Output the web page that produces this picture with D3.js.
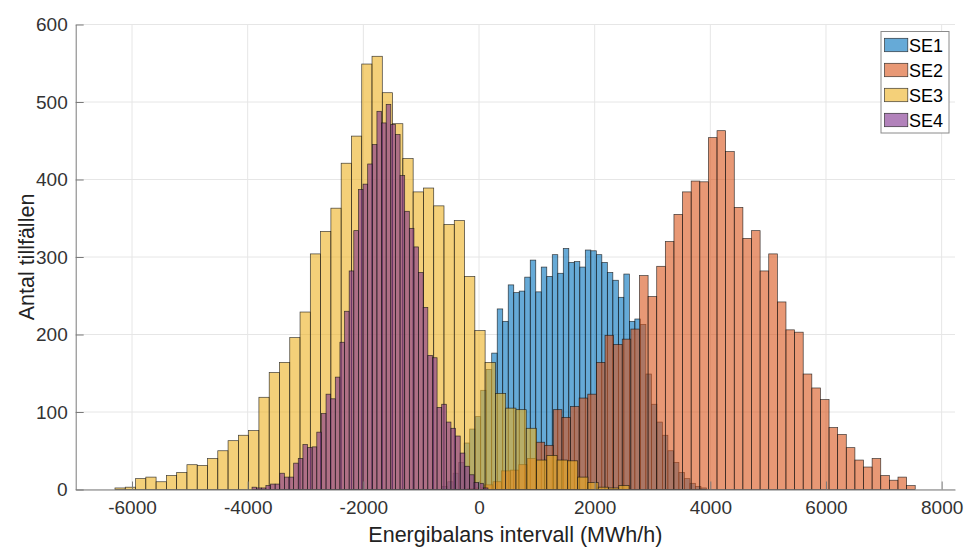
<!DOCTYPE html>
<html><head><meta charset="utf-8">
<script src="https://cdn.jsdelivr.net/npm/d3@7"></script>
<style>
body{margin:0;background:#fff}
svg{display:block}
text{font-family:"Liberation Sans",Arial,Helvetica,sans-serif}
</style>
</head><body><svg id="c" width="965" height="548"></svg>
<script>
// ---- data ----
const seriesNames = ["SE1", "SE2", "SE3", "SE4"];
const seriesColors = ["#0072BD", "#D95319", "#EDB120", "#7E2F8E"];

// SE1: first bin edge, bin width (MWh/h), counts
const se1Start = -637, se1Width = 95.2;
const se1Counts = [4, 10, 21, 35, 60, 78, 94, 128, 155, 176, 233, 217, 264, 254, 256, 274, 296, 255, 287, 275, 303, 279, 311, 293, 294, 287, 309, 308, 303, 293, 280, 270, 248, 278, 217, 220, 213, 149, 110, 87, 70, 50, 35, 22, 14, 8, 4, 2];

const se2Start = -205, se2Width = 149;
const se2Counts = [1, 2, 6, 10, 24, 25, 32, 40, 61, 57, 103, 93, 107, 118, 123, 164, 199, 187, 194, 207, 276, 249, 288, 320, 355, 384, 398, 397, 454, 463, 436, 364, 324, 334, 282, 304, 242, 206, 203, 149, 131, 116, 80, 71, 54, 38, 29, 40, 18, 12, 16, 5];

const se3Start = -6295, se3Width = 177.8;
const se3Counts = [2, 3, 14, 16, 10, 18, 22, 32, 31, 40, 50, 63, 70, 76, 119, 151, 164, 196, 229, 304, 333, 363, 421, 456, 549, 559, 512, 472, 427, 384, 389, 366, 342, 347, 275, 205, 164, 124, 105, 103, 79, 38, 44, 38, 37, 16, 9, 3, 2, 5];

const se4Start = -3925, se4Width = 80;
const se4Counts = [3, 2, 2, 5, 7, 7, 21, 16, 16, 34, 40, 58, 54, 55, 74, 98, 123, 117, 145, 190, 230, 282, 334, 387, 394, 420, 445, 488, 473, 497, 471, 458, 405, 359, 337, 313, 280, 235, 173, 170, 106, 110, 87, 79, 69, 47, 30, 19, 9, 8, 2];

const xTicks = [-6000, -4000, -2000, 0, 2000, 4000, 6000, 8000];
const yTicks = [0, 100, 200, 300, 400, 500, 600];
const xLabel = "Energibalans intervall (MWh/h)";
const yLabel = "Antal tillfällen";

// ---- drawing ----
const svg = d3.select("#c");
const L = 75.7, R = 955, T = 24.5, B = 489.5;
const x = d3.scaleLinear().domain([-6974, 8231]).range([L, R]);
const y = d3.scaleLinear().domain([0, 600]).range([B, T]);

// grid
const grid = svg.append("g");
grid.selectAll("line.gx").data(xTicks).join("line")
  .attr("x1", d => x(d)).attr("x2", d => x(d)).attr("y1", T).attr("y2", B)
  .attr("stroke", "#e6e6e6").attr("stroke-width", 1);
grid.selectAll("line.gy").data(yTicks).join("line")
  .attr("x1", L).attr("x2", R).attr("y1", d => y(d)).attr("y2", d => y(d))
  .attr("stroke", "#e6e6e6").attr("stroke-width", 1);

const series = [
  {start: se1Start, width: se1Width, counts: se1Counts},
  {start: se2Start, width: se2Width, counts: se2Counts},
  {start: se3Start, width: se3Width, counts: se3Counts},
  {start: se4Start, width: se4Width, counts: se4Counts}
];

series.forEach((s, si) => {
  const bins = s.counts.map((c, i) => ({x0: s.start + i * s.width, x1: s.start + (i + 1) * s.width, c}));
  svg.append("g").selectAll("rect").data(bins.filter(b => b.c > 0)).join("rect")
    .attr("x", d => x(d.x0)).attr("width", d => x(d.x1) - x(d.x0))
    .attr("y", d => y(d.c)).attr("height", d => y(0) - y(d.c))
    .attr("fill", seriesColors[si]).attr("fill-opacity", 0.6)
    .attr("stroke", "#111").attr("stroke-opacity", 0.8).attr("stroke-width", 0.7);
});

// axes
const axisColor = "#7a7a7a", textColor = "#333";
const fmt = d => String(d);
const gx = svg.append("g").attr("transform", `translate(0,${B})`)
  .call(d3.axisBottom(x).tickValues(xTicks).tickFormat(fmt).tickSizeInner(-8).tickSizeOuter(0).tickPadding(11));
const gy = svg.append("g").attr("transform", `translate(${L},0)`)
  .call(d3.axisLeft(y).tickValues(yTicks).tickFormat(fmt).tickSizeInner(-8).tickSizeOuter(0).tickPadding(8));
[gx, gy].forEach(g => {
  g.select(".domain").attr("stroke", axisColor).attr("stroke-width", 1);
  g.selectAll(".tick line").attr("stroke", axisColor).attr("stroke-width", 1);
  g.selectAll(".tick text").attr("fill", textColor).style("font-size", "19px")
    .style("font-family", '"Liberation Sans", Arial, sans-serif');
});

svg.append("text").attr("x", (L + R) / 2).attr("y", 542).attr("text-anchor", "middle")
  .attr("fill", "#222").style("font-size", "21.5px").text(xLabel);
svg.append("text").attr("transform", `translate(34,${(T + B) / 2}) rotate(-90)`)
  .attr("text-anchor", "middle").attr("fill", "#222").style("font-size", "21.5px").text(yLabel);

// legend
const lg = svg.append("g");
lg.append("rect").attr("x", 881).attr("y", 31.5).attr("width", 68).attr("height", 101.5)
  .attr("fill", "#fff").attr("stroke", "#8a8a8a").attr("stroke-width", 1);
seriesNames.forEach((n, i) => {
  const cy = 45 + i * 25;
  lg.append("rect").attr("x", 884.5).attr("y", cy - 6.7).attr("width", 23.3).attr("height", 13.4)
    .attr("fill", seriesColors[i]).attr("fill-opacity", 0.6)
    .attr("stroke", "#111").attr("stroke-opacity", 0.8).attr("stroke-width", 0.7);
  lg.append("text").attr("x", 909).attr("y", cy + 6.5).attr("fill", "#000")
    .style("font-size", "18px").text(n);
});
</script>
</body></html>
